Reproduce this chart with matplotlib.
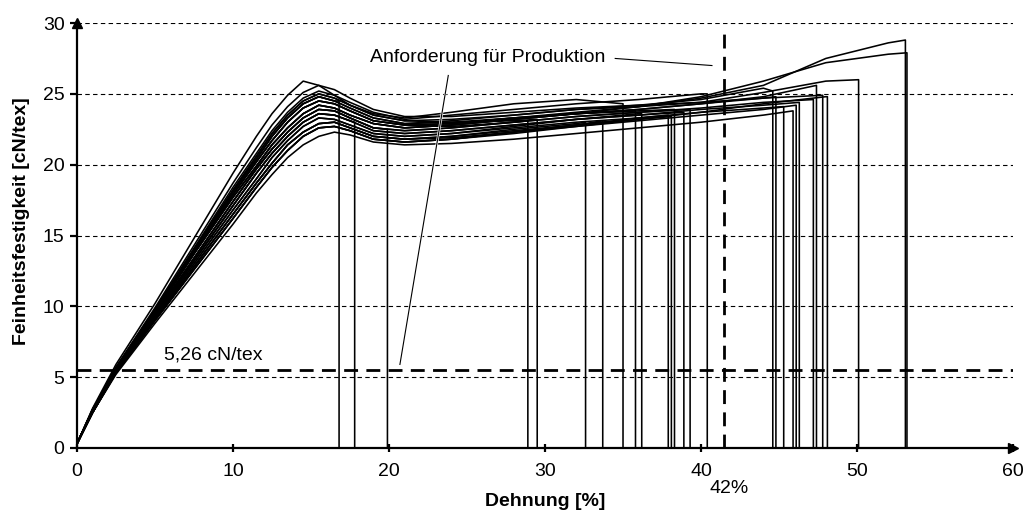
import matplotlib
matplotlib.use("Agg")
import matplotlib.pyplot as plt
import matplotlib.patheffects as pe

plt.rcParams['font.family'] = ['Liberation Sans', 'DejaVu Sans']

# ---- data -------------------------------------------------------------
strain_grid = [0, 1, 2.5, 5, 7.5, 10, 11.5, 12.5, 13.5, 14.5, 15.5, 16.5, 17.5, 19, 21,
               24, 28, 32, 36, 40, 44, 48, 52]

# rise + yield part (strain 0 ... 21 %) for different peak levels
rise_260 = [0.3, 2.8, 5.9, 10.2, 14.8, 19.4, 22.0, 23.6, 24.9, 25.9, 25.6, 24.9, 24.2, 23.6, 23.3]
rise_256 = [0.3, 2.7, 5.7, 9.9, 14.3, 18.7, 21.2, 22.8, 24.1, 25.1, 25.6, 25.3, 24.7, 23.9, 23.4]
rise_252 = [0.3, 2.7, 5.7, 9.8, 14.1, 18.4, 20.8, 22.4, 23.7, 24.7, 25.2, 24.9, 24.4, 23.7, 23.2]
rise_250 = [0.3, 2.7, 5.6, 9.7, 14.0, 18.2, 20.6, 22.2, 23.5, 24.5, 25.0, 24.7, 24.2, 23.5, 23.1]
rise_248 = [0.3, 2.7, 5.6, 9.7, 13.9, 18.1, 20.4, 22.0, 23.3, 24.3, 24.8, 24.5, 24.0, 23.3, 22.9]
rise_245 = [0.3, 2.6, 5.6, 9.6, 13.8, 17.9, 20.2, 21.7, 23.0, 24.0, 24.5, 24.3, 23.8, 23.1, 22.8]
rise_242 = [0.3, 2.6, 5.5, 9.5, 13.7, 17.7, 19.9, 21.4, 22.6, 23.6, 24.2, 24.0, 23.5, 22.9, 22.6]
rise_240 = [0.3, 2.6, 5.5, 9.4, 13.4, 17.4, 19.7, 21.1, 22.3, 23.3, 23.9, 23.8, 23.3, 22.6, 22.4]
rise_237 = [0.3, 2.6, 5.5, 9.3, 13.2, 17.1, 19.4, 20.8, 22.0, 23.0, 23.6, 23.5, 23.1, 22.4, 22.2]
rise_234 = [0.3, 2.5, 5.4, 9.2, 13.0, 16.8, 19.0, 20.5, 21.7, 22.7, 23.3, 23.2, 22.8, 22.2, 22.0]
rise_231 = [0.3, 2.5, 5.4, 9.1, 12.8, 16.5, 18.7, 20.1, 21.4, 22.3, 22.9, 23.0, 22.6, 22.0, 21.8]
rise_228 = [0.3, 2.5, 5.3, 9.0, 12.6, 16.2, 18.4, 19.8, 21.0, 22.0, 22.6, 22.7, 22.4, 21.8, 21.6]
rise_224 = [0.3, 2.5, 5.2, 8.8, 12.3, 15.8, 18.0, 19.3, 20.5, 21.4, 22.0, 22.3, 22.1, 21.6, 21.4]

# each sample: rise part, plateau values at 24, 28, 32 ... %, strain at break, stress at break
rise_of_sample = [rise_248, rise_237, rise_240, rise_245, rise_250, rise_231, rise_228,
                  rise_260, rise_242, rise_234, rise_228, rise_231, rise_245, rise_237,
                  rise_240, rise_252, rise_248, rise_242, rise_234, rise_224, rise_231,
                  rise_237, rise_240, rise_245, rise_250, rise_228, rise_256, rise_248,
                  rise_242]
plateau_of_sample = [
    [],
    [],
    [],
    [22.7, 23.0],
    [23.0, 23.1],
    [22.0, 22.5, 22.9],
    [21.8, 22.3, 22.8],
    [23.7, 24.3, 24.6],
    [22.8, 23.2, 23.6],
    [22.2, 22.7, 23.2, 23.6],
    [21.8, 22.3, 22.8, 23.3],
    [22.0, 22.4, 22.8, 23.2],
    [22.9, 23.3, 23.6, 23.8],
    [22.4, 22.8, 23.2, 23.5],
    [22.6, 23.0, 23.4, 23.7],
    [23.5, 23.9, 24.3, 24.6, 25.0],
    [23.1, 23.5, 23.9, 24.2, 24.6, 25.4],
    [22.8, 23.2, 23.6, 23.9, 24.3, 24.7],
    [22.2, 22.6, 23.0, 23.3, 23.7, 24.0],
    [21.5, 21.8, 22.2, 22.6, 23.0, 23.5],
    [21.9, 22.3, 22.7, 23.1, 23.5, 23.9],
    [22.4, 22.8, 23.2, 23.5, 23.9, 24.2],
    [22.6, 23.0, 23.4, 23.7, 24.0, 24.4],
    [22.9, 23.3, 23.6, 23.9, 24.3, 24.8],
    [23.2, 23.5, 23.9, 24.1, 24.4, 24.7],
    [21.8, 22.2, 22.7, 23.2, 23.7, 24.3, 24.8],
    [23.4, 23.7, 24.0, 24.2, 24.4, 25.1, 25.9],
    [23.0, 23.3, 23.7, 24.1, 24.7, 25.6, 27.5, 28.6],
    [22.8, 23.2, 23.6, 24.1, 24.8, 25.9, 27.2, 27.8],
]
break_strain = [16.8, 17.8, 19.9, 28.9, 29.5, 32.6, 33.7, 35.0, 35.8, 36.2, 37.9, 38.1,
                38.3, 38.9, 39.3, 40.4, 44.6, 44.8, 45.3, 45.9, 46.1, 46.3, 47.2, 47.4,
                47.8, 48.1, 50.1, 53.1, 53.2]
break_stress = [24.5, 23.0, 22.5, 23.1, 23.2, 23.0, 23.1, 24.3, 23.8, 23.6, 23.5, 23.4,
                23.9, 23.7, 23.9, 25.0, 25.2, 24.8, 24.1, 23.8, 24.2, 24.4, 24.6, 25.6,
                24.9, 24.8, 26.0, 28.8, 27.9]

x_ticks = [0, 10, 20, 30, 40, 50, 60]
y_ticks = [0, 5, 10, 15, 20, 25, 30]
requirement_stress = 5.5
requirement_label = "5,26 cN/tex"
strain_limit = 41.5
strain_label = "42%"

FS = 14

# ---- figure -----------------------------------------------------------
fig = plt.figure(figsize=(10.29, 5.12), dpi=100)
ax = fig.add_axes([0.0748, 0.125, 0.9097, 0.830])
ax.set_xlim(0, 60)
ax.set_ylim(0, 30)

for y in y_ticks[1:]:
    ax.axhline(y, color='black', lw=0.8, dashes=(4, 3), zorder=1)

for rise, plat, b, e in zip(rise_of_sample, plateau_of_sample, break_strain, break_stress):
    ys = rise + plat
    xs = strain_grid[:len(ys)]
    px = [x for x in xs if x < b]
    py = ys[:len(px)]
    px = px + [b, b]
    py = py + [e, 0]
    ax.plot(px, py, color='black', lw=1.15, solid_joinstyle='round', zorder=2)

# requirement lines
ax.plot([0, 60], [requirement_stress, requirement_stress], color='black', lw=2.0,
        dashes=(5, 3), zorder=3)
ax.plot([strain_limit, strain_limit], [0, 29.3], color='black', lw=2.0,
        dashes=(5, 3), zorder=3)

# annotation
ax.text(26.3, 27.6, "Anforderung für Produktion", ha='center', va='center', fontsize=FS)
ax.plot([23.8, 20.7], [26.3, 5.9], color='black', lw=0.8, zorder=4,
        path_effects=[pe.Stroke(linewidth=1.8, foreground='white'), pe.Normal()])
ax.plot([34.5, 40.7], [27.5, 27.0], color='black', lw=0.8, zorder=4)
ax.text(5.6, 6.6, requirement_label, ha='left', va='center', fontsize=FS)
ax.text(strain_limit + 0.3, -2.85, strain_label, ha='center', va='center', fontsize=FS,
        clip_on=False)

# axes styling
for s in ['top', 'right']:
    ax.spines[s].set_visible(False)
for s in ['left', 'bottom']:
    ax.spines[s].set_linewidth(1.6)
ax.plot([0], [30], marker='^', color='black', markersize=7, clip_on=False, zorder=5)
ax.plot([60], [0], marker='>', color='black', markersize=7, clip_on=False, zorder=5)

ax.set_xticks(x_ticks)
ax.set_yticks(y_ticks)
ax.tick_params(axis='x', direction='inout', length=6, width=1.6, labelsize=FS, pad=8)
ax.tick_params(axis='y', direction='out', length=5, width=1.6, labelsize=FS, pad=4)
ax.set_xlabel("Dehnung [%]", fontsize=FS, fontweight='bold')
ax.xaxis.set_label_coords(0.5, -0.106)
ax.set_ylabel("Feinheitsfestigkeit [cN/tex]", fontsize=FS, fontweight='bold')
ax.yaxis.set_label_coords(-0.050, 0.535)

fig.savefig("out.png", dpi=100)
